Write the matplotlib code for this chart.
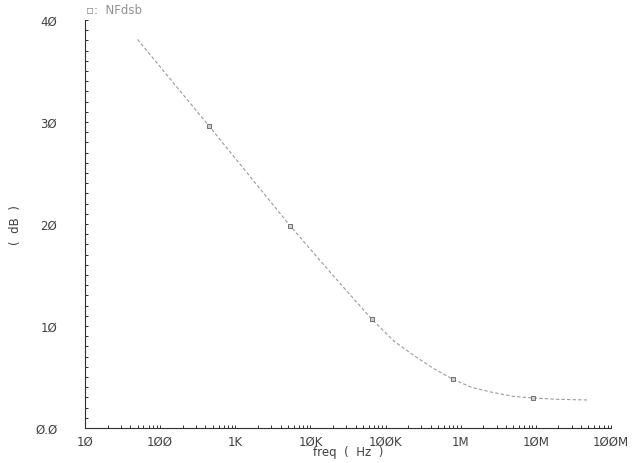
import matplotlib
matplotlib.use("Agg")
import matplotlib.pyplot as plt
from matplotlib.ticker import FixedLocator, LogLocator, NullFormatter, MultipleLocator

# trace (NFdsb vs frequency)
freq_hz = [50, 448, 5.4e3, 20e3, 65e3, 130e3, 254e3, 450e3, 778e3,
           1.4e6, 2.63e6, 5e6, 9.27e6, 20e6, 48e6]
nf_db = [38.1, 29.6, 19.8, 14.95, 10.7, 8.5, 6.96, 5.77, 4.8,
         3.98, 3.5, 3.1, 2.94, 2.81, 2.75]
marker_idx = [1, 2, 4, 8, 12]

x_ticks = [10, 100, 1e3, 1e4, 1e5, 1e6, 1e7, 1e8]
x_labels = ["1Ø", "1ØØ", "1K", "1ØK", "1ØØK", "1M", "1ØM", "1ØØM"]
y_ticks = [0, 10, 20, 30, 40]
y_labels = ["Ø.Ø", "1Ø", "2Ø", "3Ø", "4Ø"]

plt.rcParams["font.family"] = "DejaVu Sans"

fig = plt.figure(figsize=(6.38, 4.64), dpi=100)
ax = fig.add_axes([85 / 638, 1 - 429 / 464, 526 / 638, 408 / 464])

ax.plot(freq_hz, nf_db, color="#9a9a9a", lw=0.8, dashes=(3, 2),
        marker="s", markevery=marker_idx, ms=3.2,
        mfc="#d0d0d0", mec="#707070", mew=0.7)

ax.set_xscale("log")
ax.set_xlim(10, 1e8)
ax.set_ylim(0, 40)

ax.xaxis.set_major_locator(FixedLocator(x_ticks))
ax.set_xticklabels(x_labels)
ax.xaxis.set_minor_locator(LogLocator(base=10, subs=range(2, 10), numticks=20))
ax.xaxis.set_minor_formatter(NullFormatter())
ax.yaxis.set_major_locator(FixedLocator(y_ticks))
ax.set_yticklabels(y_labels)
ax.yaxis.set_minor_locator(MultipleLocator(1))

for s in ["top", "right"]:
    ax.spines[s].set_visible(False)
for s in ["left", "bottom"]:
    ax.spines[s].set_color("#303030")
    ax.spines[s].set_linewidth(0.8)

ax.tick_params(axis="both", which="both", direction="in", length=2.5,
               width=0.7, color="#303030", labelsize=8.5, labelcolor="#404040")
ax.tick_params(axis="x", which="major", pad=5)
ax.tick_params(axis="y", which="major", pad=20)

# axis titles placed by hand, like the simulator's plot window
fig.text(348 / 638, 1 - 453 / 464, "freq  (  Hz  )", fontsize=8.5,
         color="#404040", ha="center", va="center")
fig.text(16 / 638, 1 - 225 / 464, "(  dB  )", rotation=90, fontsize=8.5,
         color="#404040", ha="center", va="center")

# trace legend at the top
fig.text(86 / 638, 1 - 11 / 464, "▫:  NFdsb", fontsize=8.5, color="#909090",
         ha="left", va="center")

fig.savefig("out.png", dpi=100, facecolor="white")
